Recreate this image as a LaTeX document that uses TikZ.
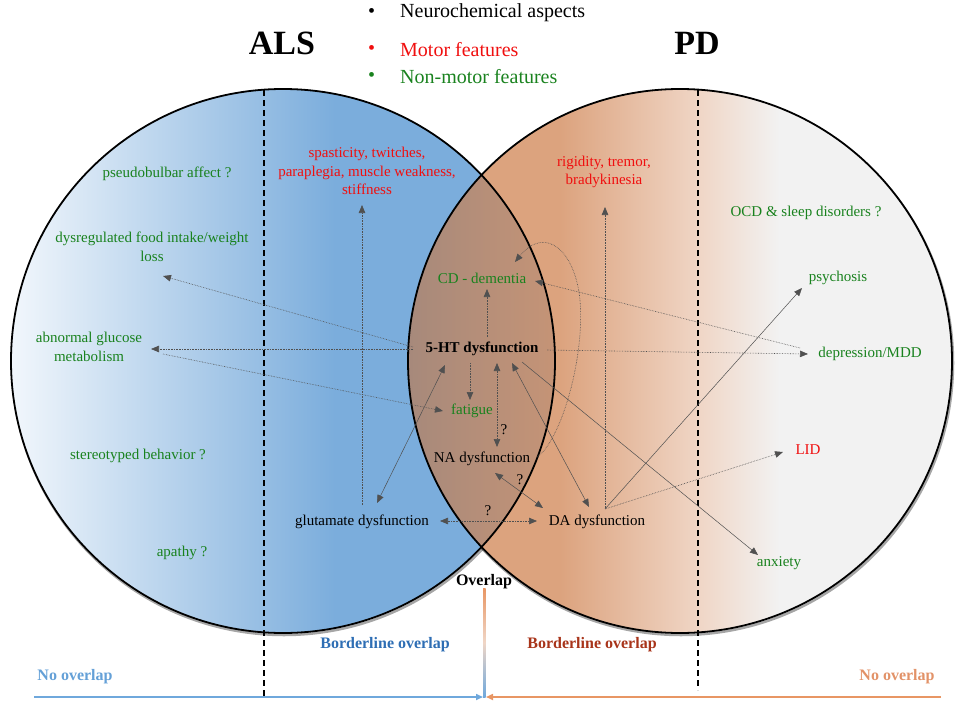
\documentclass[tikz,border=0pt]{standalone}
\usepackage{fontspec}
\setmainfont{Liberation Serif}
\usetikzlibrary{arrows.meta,calc}
\definecolor{grn}{RGB}{25,130,30}
\definecolor{rd}{RGB}{240,15,15}
\definecolor{alsL}{RGB}{242,247,252}
\definecolor{alsB}{RGB}{123,173,220}
\definecolor{pdO}{RGB}{220,163,126}
\definecolor{pdM}{RGB}{240,214,198}
\definecolor{pdG}{RGB}{242,242,242}
\definecolor{lensL}{RGB}{166,137,123}
\definecolor{lensR}{RGB}{198,148,118}
\definecolor{arrc}{RGB}{80,80,80}
\definecolor{bluetxt}{RGB}{46,110,180}
\definecolor{redtxt}{RGB}{168,52,26}
\definecolor{nob}{RGB}{100,160,215}
\definecolor{noo}{RGB}{226,146,104}
\definecolor{arrb}{RGB}{111,168,220}
\definecolor{arro}{RGB}{232,150,100}
\begin{document}
\begin{tikzpicture}[x=1pt,y=-1pt,
  lbl/.style={font=\fontsize{15}{18.5}\selectfont, align=center, inner sep=1pt},
  leg/.style={font=\fontsize{20}{24}\selectfont, anchor=west, inner sep=0pt},
  title/.style={font=\fontsize{34}{40}\selectfont\bfseries, inner sep=0pt},
  bot/.style={font=\fontsize{16}{19}\selectfont\bfseries, inner sep=0pt},
  tip/.style={-{Triangle[length=8pt,width=6.5pt]}},
  dtip/.style={{Triangle[length=8pt,width=6.5pt]}-{Triangle[length=8pt,width=6.5pt]}},
  dotarr/.style={draw=arrc, densely dotted, line width=0.6pt},
  solarr/.style={draw=arrc, line width=0.5pt},
  circ/.style={draw=black, line width=1.8pt},
  shad/.style={draw=black, line width=2.5pt, opacity=0.35}
]
\useasboundingbox (0,0) rectangle (964,704);

% shadows
\draw[shad] (284,363) circle (272pt);
\draw[shad] (681,363) circle (272pt);
% ALS circle fill
\begin{scope}
  \clip (283,361) circle (272pt);
  \shade[left color=alsL, right color=alsB] (10,80) rectangle (335,640);
  \fill[alsB] (334,80) rectangle (560,640);
\end{scope}
% PD circle fill
\begin{scope}
  \clip (680,361) circle (272pt);
  \fill[pdO] (405,80) rectangle (561,640);
  \shade[left color=pdO, right color=pdM] (560,80) rectangle (700,640);
  \shade[left color=pdM, right color=pdG] (699,80) rectangle (780,640);
  \fill[pdG] (779,80) rectangle (955,640);
\end{scope}
% lens
\begin{scope}
  \clip (283,361) circle (272pt);
  \clip (680,361) circle (272pt);
  \shade[left color=lensL, right color=lensR] (405,80) rectangle (560,640);
\end{scope}
\draw[circ] (283,361) circle (272pt);
\draw[circ] (680,361) circle (272pt);

% dashed borders
\draw[black, line width=1.4pt, dash pattern=on 6pt off 4pt] (264,90) -- (264,697);
\draw[black, line width=1.4pt, dash pattern=on 6pt off 4pt] (698,90) -- (698,690);

% titles and legend
\node[title] (als) at (282,43) {ALS};
\node[title] (pd) at (697,43) {PD};
\node[leg] (b1) at (368,13) {•};
\node[leg] (l1) at (400,13) {Neurochemical aspects};
\node[leg, text=rd] (b2) at (368,50) {•};
\node[leg, text=rd] (l2) at (400,50) {Motor features};
\node[leg, text=grn] (b3) at (368,77) {•};
\node[leg, text=grn] (l3) at (400,77) {Non-motor features};

% labels
\node[lbl, text=grn] (pba) at (167,174) {pseudobulbar affect ?};
\node[lbl, text=rd] (spa) at (367,171) {spasticity, twitches,\\paraplegia, muscle weakness,\\stiffness};
\node[lbl, text=grn] (food) at (152,247) {dysregulated food intake/weight\\loss};
\node[lbl, text=grn] (gluc) at (89,347) {abnormal glucose\\metabolism};
\node[lbl, text=grn] (stereo) at (138,456) {stereotyped behavior ?};
\node[lbl, text=grn] (apathy) at (182,553) {apathy ?};
\node[lbl] (glu) at (362,522) {glutamate dysfunction};
\node[lbl, font=\fontsize{15}{18.5}\selectfont\bfseries] (ht) at (482,349) {5-HT dysfunction};
\node[lbl, text=grn] (cd) at (482,278) {CD - dementia};
\node[lbl, text=grn] (fat) at (472,411) {fatigue};
\node[lbl] (na) at (482,459) {NA dysfunction};
\node[lbl] (da) at (597,522) {DA dysfunction};
\node[lbl, text=rd] (rig) at (604,172) {rigidity, tremor,\\bradykinesia};
\node[lbl, text=grn] (ocd) at (806,213) {OCD \& sleep disorders ?};
\node[lbl, text=grn] (psy) at (838,278) {psychosis};
\node[lbl, text=grn] (dep) at (870,354) {depression/MDD};
\node[lbl, text=rd] (lid) at (808,450) {LID};
\node[lbl, text=grn] (anx) at (779,563) {anxiety};
\node[lbl] (q1) at (504,430) {?};
\node[lbl] (q2) at (520,480) {?};
\node[lbl] (q3) at (488,511) {?};

% connectors
\draw[dotarr, tip] ($(ht)+(-69,-2)$) -- ($(food)+(11,29)$);
\draw[dotarr, tip] ($(ht)+(-69,0)$) -- ($(gluc)+(62,2)$);
\draw[dotarr, tip] ($(gluc)+(74,7)$) -- ($(fat)+(-29,0)$);
\draw[dotarr, tip] ($(ht)+(5,-12)$) -- ($(cd)+(5,11)$);
\draw[dotarr, tip] ($(ht)+(-12,14)$) -- ($(fat)+(-2,-11)$);
\draw[dotarr, dtip] ($(ht)+(15,14)$) -- ($(na)+(15,-12)$);
\draw[dotarr, tip] ($(ht)+(65,1)$) -- ($(dep)+(-62,0)$);
\draw[dotarr, tip] ($(dep)+(-70,-6)$) -- ($(cd)+(53,3)$);
\draw[dotarr, tip] ($(na)+(55,-2)$) .. controls ($(na)+(78,-17)$) and ($(na)+(103,-99)$) .. ($(na)+(98,-159)$)
   .. controls ($(na)+(93,-209)$) and ($(na)+(63,-234)$) .. ($(cd)+(33,-16)$);
\draw[solarr, dtip] ($(glu)+(15,-19)$) -- ($(ht)+(-37,16)$);
\draw[dotarr, tip] ($(glu)+(0,-17)$) -- ($(spa)+(-5,34)$);
\draw[dotarr, dtip] ($(glu)+(78,-1)$) -- ($(da)+(-60,-1)$);
\draw[solarr, dtip] ($(na)+(13,14)$) -- ($(da)+(-54,-14)$);
\draw[solarr, dtip] ($(ht)+(30,14)$) -- ($(da)+(-8,-15)$);
\draw[solarr, tip] ($(ht)+(40,13)$) -- ($(anx)+(-21,-8)$);
\draw[dotarr, tip] ($(da)+(8,-14)$) -- ($(rig)+(1,35)$);
\draw[solarr, tip] ($(da)+(8,-13)$) -- ($(psy)+(-36,10)$);
\draw[dotarr, tip] ($(da)+(8,-13)$) -- ($(lid)+(-25,2)$);

% bottom scale
\node[bot] (ov) at (484,582) {Overlap};
\shade[top color=arro, bottom color=arrb, middle color=pdM] (483,588) rectangle (485.5,697);
\node[bot, text=bluetxt] (blb) at (385,645) {Borderline overlap};
\node[bot, text=redtxt] (blr) at (592,645) {Borderline overlap};
\node[bot, text=nob] (nol) at (75,677) {No overlap};
\node[bot, text=noo] (nor) at (897,677) {No overlap};
\coordinate (bl0) at (34,697);
\coordinate (bl1) at (483,697);
\coordinate (br0) at (941,697);
\coordinate (br1) at (486,697);
\draw[arrb, line width=1.6pt, -{Triangle[length=7pt,width=6pt]}] (bl0) -- (bl1);
\draw[arro, line width=1.6pt, -{Triangle[length=7pt,width=6pt]}] (br0) -- (br1);
\end{tikzpicture}
\end{document}
